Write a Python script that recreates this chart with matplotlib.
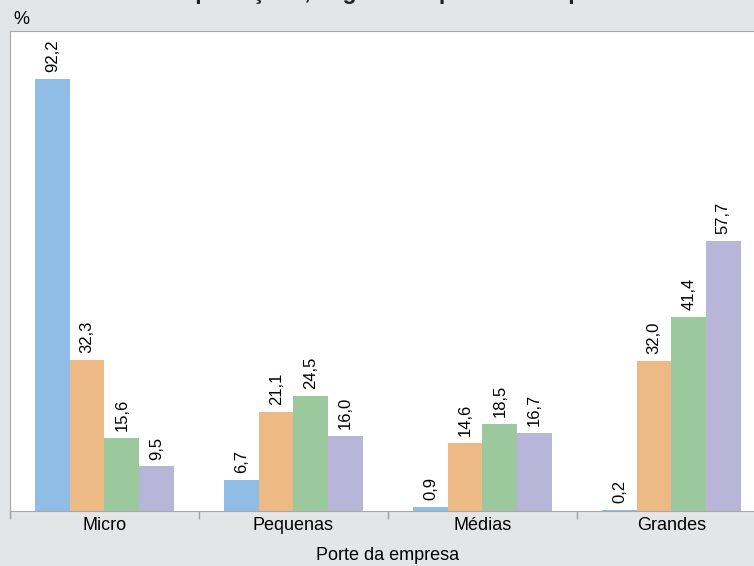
import numpy as np
import matplotlib.pyplot as plt

portes = ["Micro", "Pequenas", "Médias", "Grandes"]
serie_1 = [92.2, 6.7, 0.9, 0.2]
serie_2 = [32.3, 21.1, 14.6, 32.0]
serie_3 = [15.6, 24.5, 18.5, 41.4]
serie_4 = [9.5, 16.0, 16.7, 57.7]
cores = ["#8fbde6", "#edb985", "#9bc99d", "#b9b5d9"]

plt.rcParams['font.family'] = ['Liberation Sans', 'DejaVu Sans']

fig = plt.figure(figsize=(7.54, 5.66), dpi=100)
fig.patch.set_facecolor("#e4e5e7")
ax = fig.add_axes([10 / 754, 1 - 511 / 566, 756 / 754, 480 / 566])

x = np.arange(len(portes))
w = 0.183
for i, vals in enumerate([serie_1, serie_2, serie_3, serie_4]):
    pos = x + (i - 1.5) * w
    bars = ax.bar(pos, vals, width=w, color=cores[i], linewidth=0)
    for b, v in zip(bars, vals):
        ax.annotate(f"{v:.1f}".replace(".", ","), (b.get_x() + b.get_width() / 2, v),
                    xytext=(0, 5), textcoords="offset points", rotation=90,
                    ha="center", va="bottom", fontsize=12)

ax.set_xlim(-0.5, 3.5)
ax.set_ylim(0, 102.4)
ax.set_yticks([])
ax.set_xticks(x)
ax.set_xticklabels(portes, fontsize=13)
ax.set_xticks(np.arange(-0.5, 4, 1), minor=True)
ax.tick_params(axis="x", which="major", length=0, pad=4)
ax.tick_params(axis="x", which="minor", length=6, color="#a0a0a0", width=1)
ax.set_xlabel("Porte da empresa", fontsize=13, labelpad=10)
for s in ["left", "top", "bottom", "right"]:
    ax.spines[s].set_color("#a8a8a8")

fig.text(13 / 754, 1 - 24 / 566, "%", fontsize=13)
# titulo cortado no topo, como na figura original
fig.text(62 / 754, 1 + 1 / 566,
         "Valor das exportações, segundo o porte da empresa – Brasil – 2021",
         ha="left", va="baseline", fontsize=16.5, fontweight="bold", color="#222222")

fig.savefig("out.png", dpi=100, facecolor=fig.get_facecolor())
